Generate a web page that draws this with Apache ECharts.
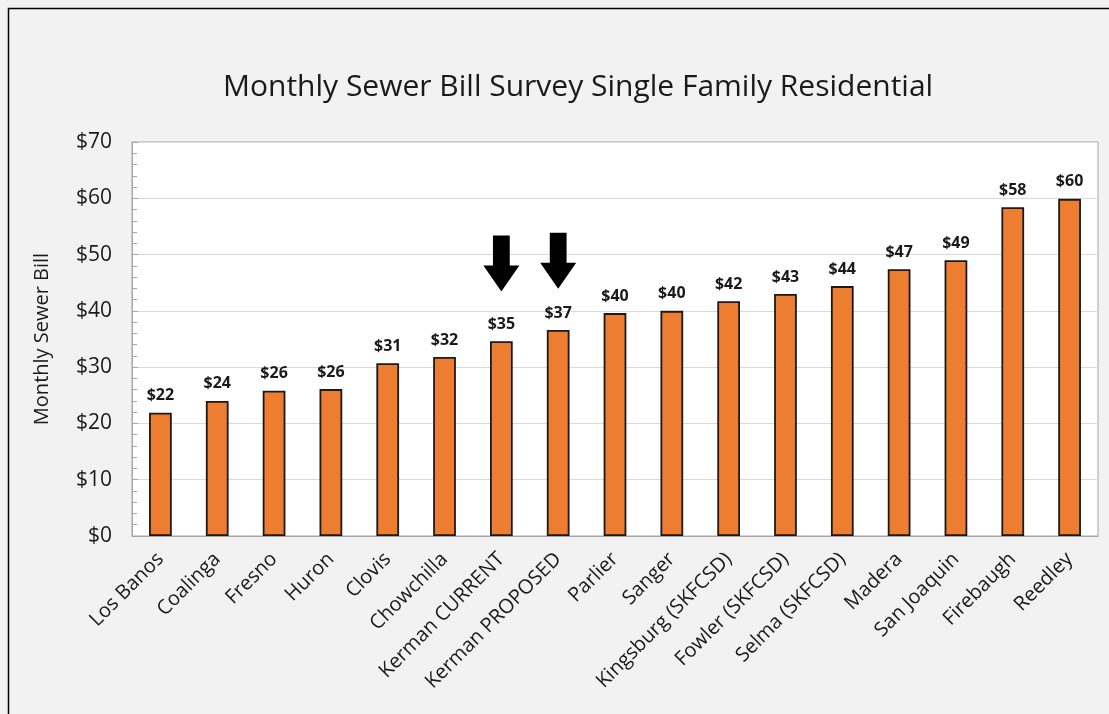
<!DOCTYPE html>
<html>
<head>
<meta charset="utf-8">
<script src="https://cdn.jsdelivr.net/npm/echarts@6/dist/echarts.min.js"></script>
<style>
  html, body { margin: 0; padding: 0; background: #f2f2f2; }
  #main { width: 1109px; height: 714px; }
</style>
</head>
<body>
<div id="main"></div>
<script>
// categories and monthly bill values
const cities = [
  'Los Banos', 'Coalinga', 'Fresno', 'Huron', 'Clovis', 'Chowchilla',
  'Kerman CURRENT', 'Kerman PROPOSED', 'Parlier', 'Sanger',
  'Kingsburg (SKFCSD)', 'Fowler (SKFCSD)', 'Selma (SKFCSD)', 'Madera',
  'San Joaquin', 'Firebaugh', 'Reedley'
]
const bills = [21.9, 24.0, 25.8, 26.1, 30.7, 31.8, 34.6, 36.6, 39.6, 40.0,
  41.7, 43.0, 44.4, 47.4, 49.0, 58.4, 59.9]
const highlighted = ['Kerman CURRENT', 'Kerman PROPOSED']
const yTicks = [0, 10, 20, 30, 40, 50, 60, 70]

const fontFamily = '"Open Sans", "Noto Sans", sans-serif'
const arrowPath = 'path://M8,0 L22,0 L22,30 L30,30 L15,56 L0,30 L8,30 Z'

const chartDom = document.getElementById('main')
const myChart = echarts.init(chartDom)
var option
option = {
  backgroundColor: '#f2f2f2',
  animation: false,
  textStyle: { fontFamily: fontFamily },
  title: {
    text: 'Monthly Sewer Bill Survey Single Family Residential',
    left: 218,
    top: 67,
    textStyle: {
      fontFamily: fontFamily,
      fontSize: 30,
      fontWeight: 'normal',
      color: '#1a1a1a'
    }
  },
  graphic: [
    {
      type: 'rect',
      shape: { x: 8.5, y: 8.5, width: 1120, height: 720 },
      style: { fill: 'none', stroke: '#000', lineWidth: 1.5 },
      silent: true
    }
  ],
  grid: {
    left: 132,
    top: 142,
    right: 11,
    bottom: 178,
    show: true,
    backgroundColor: '#ffffff',
    borderColor: '#a6a6a6',
    borderWidth: 1
  },
  xAxis: {
    type: 'category',
    data: cities,
    axisTick: { show: false },
    axisLine: { lineStyle: { color: '#a6a6a6', width: 1 } },
    axisLabel: {
      rotate: 45,
      margin: 20,
      interval: 0,
      fontSize: 20,
      color: '#1a1a1a',
      fontFamily: fontFamily
    }
  },
  yAxis: [
    {
      type: 'value',
      min: yTicks[0],
      max: yTicks[yTicks.length - 1],
      interval: 10,
      name: 'Monthly Sewer Bill',
      nameLocation: 'middle',
      nameGap: 80,
      nameTextStyle: { fontSize: 20, color: '#1a1a1a', fontFamily: fontFamily },
      axisLine: { show: true, lineStyle: { color: '#a6a6a6', width: 1 } },
      axisTick: { show: true, inside: true, length: 6, lineStyle: { color: '#a6a6a6' } },
      splitLine: { show: true, lineStyle: { color: '#d9d9d9', width: 1 } },
      axisLabel: {
        margin: 20,
        fontSize: 21,
        color: '#1a1a1a',
        fontFamily: fontFamily,
        formatter: v => '$' + v
      }
    },
    {
      // minor ticks every $2, drawn inside the plot
      type: 'value',
      position: 'left',
      min: yTicks[0],
      max: yTicks[yTicks.length - 1],
      interval: 2,
      axisLine: { show: false },
      axisTick: { show: true, inside: true, length: 5, lineStyle: { color: '#a6a6a6' } },
      axisLabel: { show: false },
      splitLine: { show: false }
    }
  ],
  series: [
    {
      name: 'Monthly Sewer Bill',
      type: 'bar',
      data: bills,
      barWidth: '40%',
      itemStyle: {
        color: '#ed7d31',
        borderColor: '#1a1a1a',
        borderWidth: 1.8
      },
      label: {
        show: true,
        position: 'top',
        distance: 9,
        fontSize: 16,
        fontWeight: 'bold',
        color: '#1a1a1a',
        fontFamily: fontFamily,
        formatter: p => '$' + Math.round(p.value)
      },
      markPoint: {
        silent: true,
        symbol: arrowPath,
        symbolSize: [36, 56],
        symbolKeepAspect: false,
        itemStyle: { color: '#000' },
        label: { show: false },
        data: [
          { coord: [highlighted[0], 48.4] },
          { coord: [highlighted[1], 48.9] }
        ]
      }
    }
  ]
}
option && myChart.setOption(option)
</script>
</body>
</html>
